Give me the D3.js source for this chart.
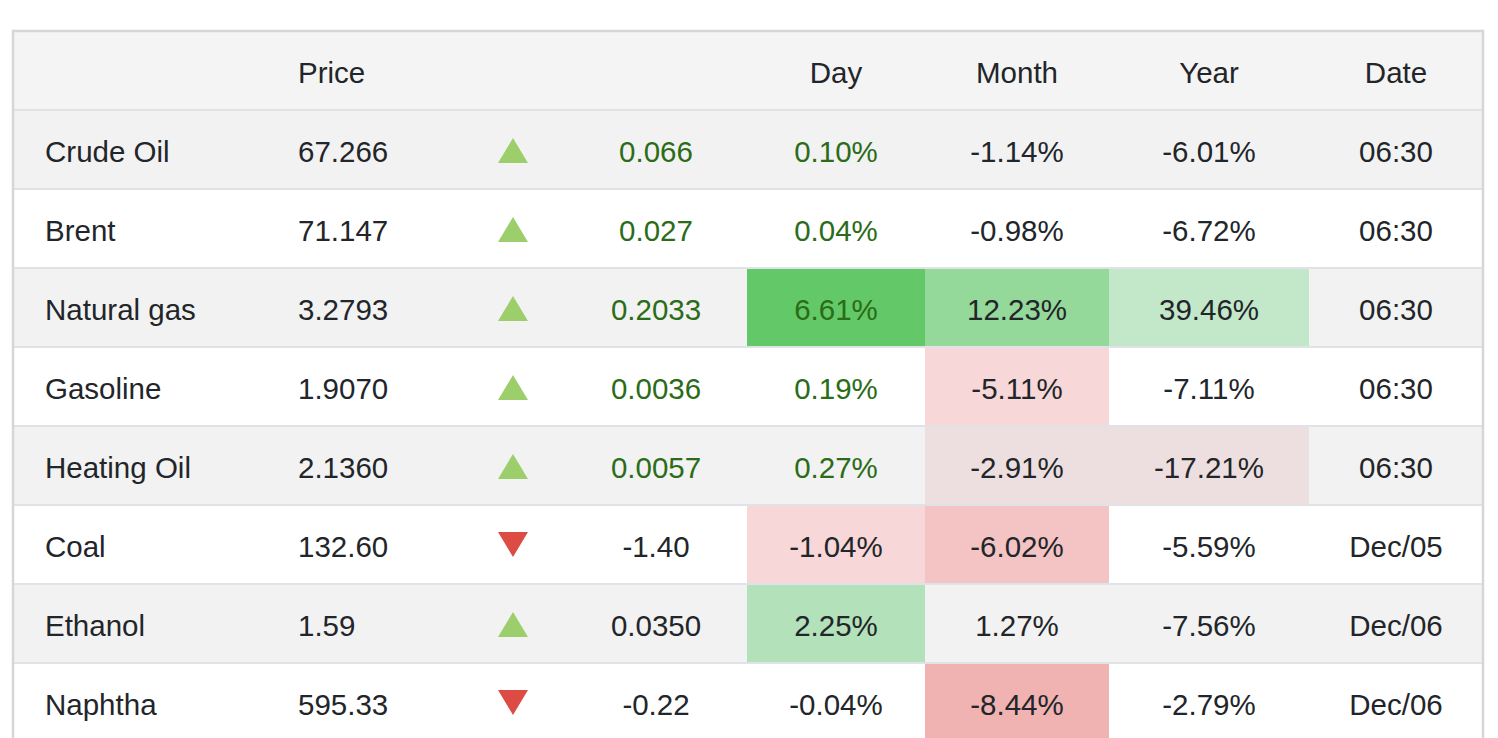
<!DOCTYPE html>
<html>
<head>
<meta charset="utf-8">
<script src="https://cdn.jsdelivr.net/npm/d3@7"></script>
<style>
  html, body { margin: 0; padding: 0; background: #ffffff; overflow: hidden; }
  svg { display: block; font-family: "Liberation Sans", Arial, Helvetica, sans-serif; }
</style>
</head>
<body>
<svg id="chart" width="1498" height="738"></svg>
<script>
// ---------- DATA ----------
const headers = ["", "Price", "", "", "Day", "Month", "Year", "Date"];
const commodities = ["Crude Oil", "Brent", "Natural gas", "Gasoline", "Heating Oil", "Coal", "Ethanol", "Naphtha"];
const prices = ["67.266", "71.147", "3.2793", "1.9070", "2.1360", "132.60", "1.59", "595.33"];
const changes = ["0.066", "0.027", "0.2033", "0.0036", "0.0057", "-1.40", "0.0350", "-0.22"];
const dayPct = ["0.10%", "0.04%", "6.61%", "0.19%", "0.27%", "-1.04%", "2.25%", "-0.04%"];
const monthPct = ["-1.14%", "-0.98%", "12.23%", "-5.11%", "-2.91%", "-6.02%", "1.27%", "-8.44%"];
const yearPct = ["-6.01%", "-6.72%", "39.46%", "-7.11%", "-17.21%", "-5.59%", "-7.56%", "-2.79%"];
const dates = ["06:30", "06:30", "06:30", "06:30", "06:30", "Dec/05", "Dec/06", "Dec/06"];
// heat level of each percentage cell (+ green, - red, 0 none)
const dayHeat = [0, 0, 4, 0, 0, -2, 2, 0];
const monthHeat = [0, 0, 3, -2, -1, -3, 0, -4];
const yearHeat = [0, 0, 1, 0, -1, 0, 0, 0];
// rows whose change / day values are shown highlighted (live update)
const liveRows = [true, true, true, true, true, false, false, false];

// ---------- STYLE / LAYOUT ----------
const W = 1498, H = 738;
const tableLeft = 13, tableRight = 1483, tableTop = 31;
const rowH = 79;
const fontSize = 29.5;
const textColor = "#222529";
const greenText = "#2a6c17";
const heatColor = d3.scaleOrdinal()
  .domain([4, 3, 2, 1, -1, -2, -3, -4])
  .range(["#63c867", "#94d89a", "#b3e1b9", "#c3e7c9", "#eddfdf", "#f7d7d7", "#f4c4c4", "#f1b2b2"]);

const cols = {
  name:   { x: 45,   anchor: "start" },
  price:  { x: 298,  anchor: "start" },
  arrow:  { x: 513,  anchor: "middle" },
  change: { x: 656,  anchor: "middle" },
  day:    { x0: 747, x1: 925,  anchor: "middle" },
  month:  { x0: 925, x1: 1109, anchor: "middle" },
  year:   { x0: 1109, x1: 1309, anchor: "middle" },
  date:   { x0: 1309, x1: 1483, anchor: "middle" }
};
Object.values(cols).forEach(c => { if (c.x === undefined) c.x = (c.x0 + c.x1) / 2; });
const colOrder = ["name", "price", "arrow", "change", "day", "month", "year", "date"];

const rowKeys = ["__header__"].concat(commodities);
const y = d3.scaleBand().domain(rowKeys).range([tableTop, tableTop + rowKeys.length * rowH]).paddingInner(0).paddingOuter(0);

const svg = d3.select("#chart");

svg.append("rect").attr("x", 0).attr("y", 0).attr("width", W).attr("height", H).attr("fill", "#ffffff");

const rowsG = svg.append("g");
rowsG.selectAll("rect.rowbg")
  .data(rowKeys)
  .join("rect")
  .attr("class", "rowbg")
  .attr("x", tableLeft)
  .attr("y", d => y(d))
  .attr("width", tableRight - tableLeft)
  .attr("height", y.bandwidth())
  .attr("fill", (d, i) => i === 0 ? "#f4f4f4" : ((i - 1) % 2 === 0 ? "#f2f2f2" : "#ffffff"));

const heatCols = [["day", dayHeat], ["month", monthHeat], ["year", yearHeat]];
heatCols.forEach(([key, levels]) => {
  const c = cols[key];
  rowsG.selectAll("rect.heat-" + key)
    .data(commodities.map((name, i) => ({ name, level: levels[i] })).filter(d => d.level !== 0))
    .join("rect")
    .attr("class", "heat-" + key)
    .attr("x", c.x0)
    .attr("y", d => y(d.name) + 1)
    .attr("width", c.x1 - c.x0)
    .attr("height", y.bandwidth() - 1)
    .attr("fill", d => heatColor(d.level));
});

svg.append("g").selectAll("line")
  .data(rowKeys.slice(1))
  .join("line")
  .attr("x1", tableLeft)
  .attr("x2", tableRight)
  .attr("y1", d => y(d))
  .attr("y2", d => y(d))
  .attr("stroke", "#dfe2e6")
  .attr("stroke-width", 2);

svg.append("path")
  .attr("d", `M${tableLeft},${H + 5} V${tableTop} H${tableRight} V${H + 5}`)
  .attr("fill", "none")
  .attr("stroke", "#d6d6d6")
  .attr("stroke-width", 2.5);

const baselineOffset = 51.5;

svg.append("g").selectAll("text")
  .data(headers.map((h, i) => ({ h, col: colOrder[i] })).filter(d => d.h))
  .join("text")
  .attr("x", d => cols[d.col].x)
  .attr("y", y("__header__") + baselineOffset)
  .attr("text-anchor", d => cols[d.col].anchor)
  .attr("font-size", fontSize)
  .attr("fill", textColor)
  .text(d => d.h);

const rows = commodities.map((name, i) => ({
  name, i,
  price: prices[i], change: changes[i], day: dayPct[i],
  month: monthPct[i], year: yearPct[i], date: dates[i],
  up: +changes[i] > 0, live: liveRows[i]
}));

const rowG = svg.append("g").selectAll("g.row")
  .data(rows)
  .join("g")
  .attr("class", "row")
  .attr("transform", d => `translate(0,${y(d.name)})`);

function addText(key, accessor, colorFn) {
  rowG.append("text")
    .attr("x", cols[key].x)
    .attr("y", baselineOffset)
    .attr("text-anchor", cols[key].anchor)
    .attr("font-size", fontSize)
    .attr("fill", d => colorFn ? colorFn(d) : textColor)
    .text(accessor);
}
addText("name", d => d.name);
addText("price", d => d.price);
addText("change", d => d.change, d => d.live ? greenText : textColor);
addText("day", d => d.day, d => d.live ? greenText : textColor);
addText("month", d => d.month);
addText("year", d => d.year);
addText("date", d => d.date);

const triW = 30, triH = 25;
rowG.append("path")
  .attr("transform", d => `translate(${cols.arrow.x},${d.up ? 28 : 27})`)
  .attr("d", d => d.up
    ? `M0,0 L${triW / 2},${triH} L${-triW / 2},${triH} Z`
    : `M${-triW / 2},0 L${triW / 2},0 L0,${triH} Z`)
  .attr("fill", d => d.up ? "#9ccf6c" : "#dc4c45");
</script>
</body>
</html>
